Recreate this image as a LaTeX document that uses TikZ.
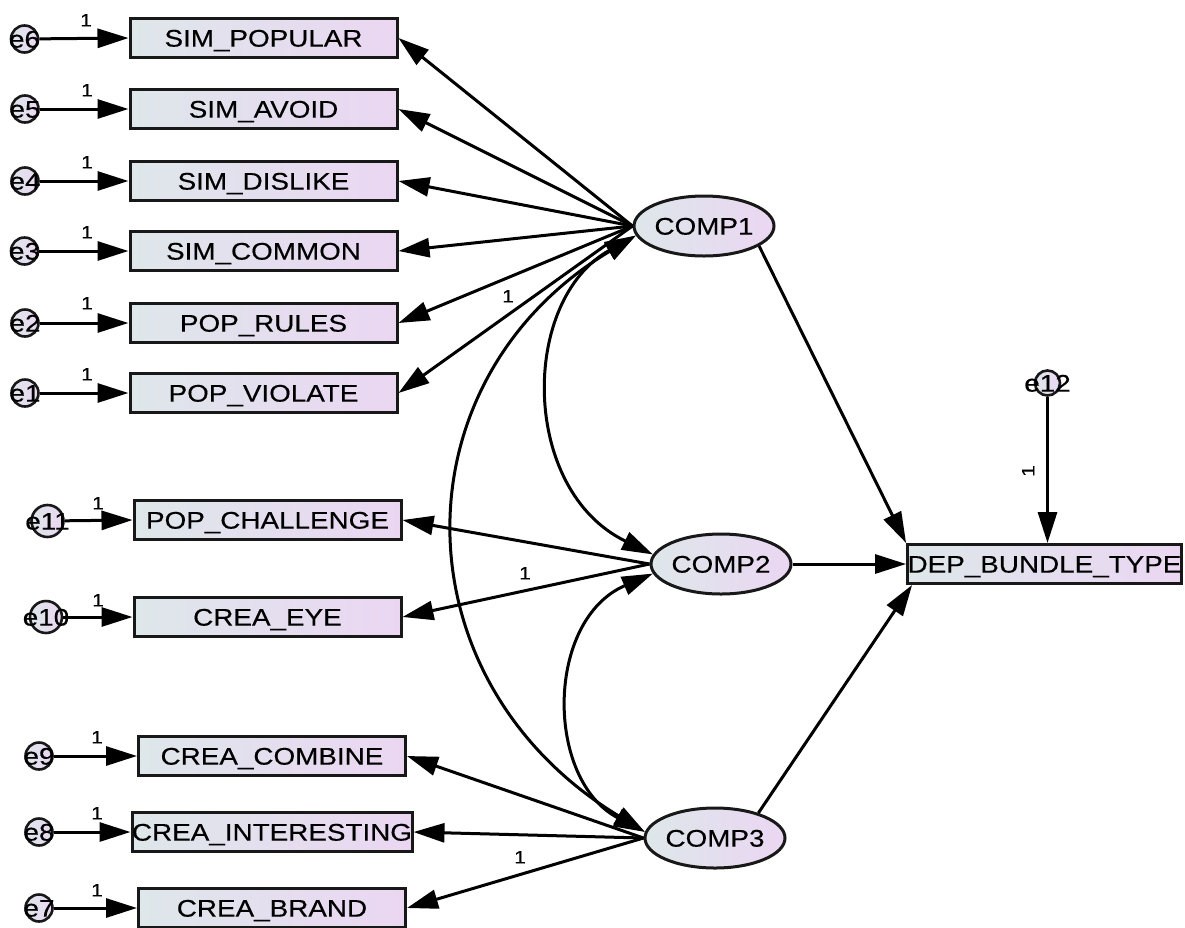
\documentclass[tikz,border=0pt]{standalone}
\usepackage{fontspec}
\usetikzlibrary{arrows.meta,shapes.geometric,calc}
\newfontfamily\amosfont[FakeStretch=1.16,FakeBold=0.35]{Liberation Sans}
\definecolor{fillL}{RGB}{222,231,234}
\definecolor{fillR}{RGB}{235,214,242}
\definecolor{edge}{RGB}{24,24,24}

\tikzset{
  bigtext/.style={font=\amosfont\fontsize{24}{26}\selectfont, text height=17.2pt, text depth=0pt},
  obs/.style={bigtext, draw=edge, line width=3pt, left color=fillL, right color=fillR,
    minimum width=267pt, minimum height=39pt, inner sep=0pt},
  lat/.style={bigtext, ellipse, draw=edge, line width=3pt, left color=fillL, right color=fillR,
    minimum width=132pt, minimum height=60pt, inner sep=0pt},
  err/.style={circle, draw=edge, line width=2.6pt, left color=fillL, right color=fillR,
    minimum size=#1, inner sep=0pt},
  err/.default=27pt,
  errtext/.style={bigtext, inner sep=0pt},
  one/.style={font=\amosfont\fontsize{18}{20}\selectfont, text height=12.9pt, text depth=0pt, inner sep=0pt},
  tip/.style={-{Triangle[length=31pt,width=19pt]}},
  path/.style={draw=black, line width=3pt, tip},
  cov/.style={draw=black, line width=3pt,
    {Triangle[length=31pt,width=19pt]}-{Triangle[length=31pt,width=19pt]}},
}

\begin{document}
\begin{tikzpicture}[x=1pt,y=-1pt]
\useasboundingbox (0,0) rectangle (1185,927);

% observed indicators
\node[obs] (popular)   at (263.5,38)  {SIM\_POPULAR};
\node[obs] (avoid)     at (263.5,109) {SIM\_AVOID};
\node[obs] (dislike)   at (263.5,181) {SIM\_DISLIKE};
\node[obs] (common)    at (263.5,251) {SIM\_COMMON};
\node[obs] (rules)     at (263.5,323) {POP\_RULES};
\node[obs] (violate)   at (263.5,393) {POP\_VIOLATE};
\node[obs] (challenge) at (267.5,520) {POP\_CHALLENGE};
\node[obs] (eye)       at (267.5,617) {CREA\_EYE};
\node[obs] (combine)   at (272,756)   {CREA\_COMBINE};
\node[obs] (interest)  at (272,832)   {CREA\_INTERESTING};
\node[obs] (brand)     at (272,908)   {CREA\_BRAND};
\node[obs] (dep)       at (1044.5,564) {DEP\_BUNDLE\_TYPE};

% latent factors
\node[lat] (c1) at (704,226) {COMP1};
\node[lat] (c2) at (721,564) {COMP2};
\node[lat] (c3) at (715,838) {COMP3};

% error terms
\node[err, label={[errtext]center:e6}]  (e6)  at (24.5,39) {};
\node[err, label={[errtext]center:e5}]  (e5)  at (25,109)  {};
\node[err, label={[errtext]center:e4}]  (e4)  at (25,181)  {};
\node[err, label={[errtext]center:e3}]  (e3)  at (24.5,251) {};
\node[err, label={[errtext]center:e2}]  (e2)  at (25,323)  {};
\node[err, label={[errtext]center:e1}]  (e1)  at (25,393)  {};
\node[err=32pt, label={[errtext]center:e11}] (e11) at (47.5,521) {};
\node[err=32pt, label={[errtext]center:e10}] (e10) at (46,617)   {};
\node[err, label={[errtext]center:e9}]  (e9)  at (39,756)  {};
\node[err, label={[errtext]center:e8}]  (e8)  at (39,832)  {};
\node[err, label={[errtext]center:e7}]  (e7)  at (39,908)  {};
\node[err=25pt, label={[errtext]center:e12}] (e12) at (1047.5,383) {};

% error paths
\foreach \e/\b in {e6/popular,e5/avoid,e4/dislike,e3/common,e2/rules,e1/violate,
                   e11/challenge,e10/eye,e9/combine,e8/interest,e7/brand}
  \draw[path] (\e) -- (\b.west);
\draw[path] (e12) -- (e12 |- dep.north);

% loadings
\foreach \b in {popular,avoid,dislike,common,rules,violate}
  \draw[path] (c1.west) -- (\b.east);
\foreach \b in {challenge,eye}
  \draw[path] (c2.west) -- (\b.east);
\foreach \b in {combine,interest,brand}
  \draw[path] (c3.west) -- (\b.east);

% structural paths
\draw[path] (c1.-20) -- (dep.north west);
\draw[path] (c2.east) -- (dep.west);
\draw[path] (c3.30) -- ($(dep.south west)+(6,0)$);

% covariances
\draw[cov] (c1.188) .. controls (520,300) and (520,490) .. (c2.172);
\draw[cov] (c1.188) .. controls (395,380) and (395,680) .. (c3.175);
\draw[cov] (c2.188) .. controls (545,620) and (545,780) .. (c3.175);

% fixed parameter labels
\node[one] (l6)  at (86,20)   {1};
\node[one] (l5)  at (87,90)   {1};
\node[one] (l4)  at (87,162)  {1};
\node[one] (l3)  at (87,232)  {1};
\node[one] (l2)  at (87,303)  {1};
\node[one] (l1)  at (87,374)  {1};
\node[one] (l11) at (98,503)  {1};
\node[one] (l10) at (98,600)  {1};
\node[one] (l9)  at (97,737)  {1};
\node[one] (l8)  at (97,813)  {1};
\node[one] (l7)  at (97,890)  {1};
\node[one, rotate=90] (l12) at (1028,471) {1};
\node[one] (lc1) at (508,296) {1};
\node[one] (lc2) at (525,573) {1};
\node[one] (lc3) at (520,857) {1};
\end{tikzpicture}
\end{document}
